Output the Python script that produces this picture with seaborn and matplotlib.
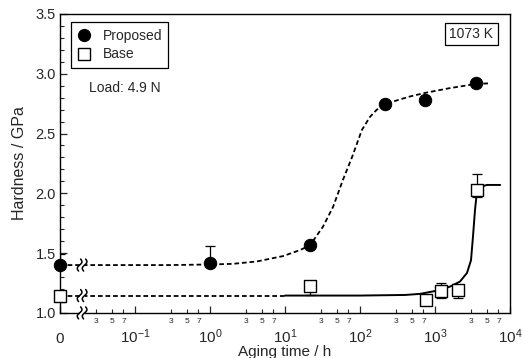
import numpy as np
import matplotlib
matplotlib.use("Agg")
import matplotlib.pyplot as plt
import matplotlib.transforms as mtrans
from matplotlib.lines import Line2D
from matplotlib.ticker import FixedLocator, FixedFormatter
import pandas as pd
import seaborn as sns

# "0 h" is drawn at the 10^-2 position of the log axis
ZERO = 1e-2

# measured points
prop_time = [ZERO, 1.0, 21.5, 215, 736, 3520]
prop_hard = [1.40, 1.42, 1.57, 2.75, 2.78, 2.925]
prop_err_lo = [0.0, 0.0, 0.0, 0.0, 0.0, 0.0]
prop_err_hi = [0.09, 0.14, 0.0, 0.0, 0.0, 0.0]

base_time = [ZERO, 21.5, 760, 1200, 2010, 3600]
base_hard = [1.14, 1.225, 1.11, 1.185, 1.19, 2.03]
base_err_lo = [0.045, 0.075, 0.0, 0.057, 0.062, 0.06]
base_err_hi = [0.0, 0.0, 0.0, 0.063, 0.0, 0.13]

# fitted curves
prop_fit_t = [ZERO, 0.3, 1.0, 2.0, 4.2, 9.4, 15.8, 21.5, 32, 43.7, 59, 78, 106,
              136, 168, 215, 320, 464, 736, 1585, 3520, 5400]
prop_fit_h = [1.40, 1.40, 1.405, 1.41, 1.43, 1.475, 1.525, 1.565, 1.72, 1.886,
              2.11, 2.30, 2.53, 2.64, 2.70, 2.745, 2.78, 2.81, 2.84, 2.88, 2.915, 2.92]

base_fit_dash_t = [ZERO, 10]
base_fit_dash_h = [1.145, 1.145]
base_fit_t = [10, 100, 400, 631, 1063, 1585, 2154, 2670, 3020, 3210, 3415,
              3630, 3900, 4240, 4930, 7400]
base_fit_h = [1.145, 1.145, 1.15, 1.159, 1.186, 1.22, 1.262, 1.334, 1.44, 1.638,
              1.86, 2.02, 2.045, 2.058, 2.07, 2.07]

major_ticks = [ZERO, 1e-1, 1e0, 1e1, 1e2, 1e3, 1e4]
major_labels = ["0", "$10^{-1}$", "$10^{0}$", "$10^{1}$", "$10^{2}$", "$10^{3}$", "$10^{4}$"]
minor_mult = [3, 5, 7]
minor_ticks = [m * 10.0 ** d for d in range(-2, 4) for m in minor_mult]
minor_labels = [str(m) for d in range(-2, 4) for m in minor_mult]

BREAK_X = 0.0197

sns.set_style("ticks")
plt.rcParams["font.family"] = ["Liberation Sans", "DejaVu Sans"]
plt.rcParams["mathtext.default"] = "regular"


def draw_break(ax, x, y, clip=True):
    # two little S-shaped squiggles with a white gap, pixel sized
    trans = ax.figure.dpi_scale_trans + mtrans.ScaledTranslation(x, y, ax.transData)
    t = np.linspace(-1, 1, 40)
    ax.fill_between([-0.025, 0.025], -0.06, 0.06, color="white", lw=0,
                    transform=trans, zorder=5, clip_on=clip)
    for dx in (-0.025, 0.025):
        xs = dx + 0.018 * np.sin(np.pi * t) + 0.01 * t
        ys = 0.06 * t
        ax.plot(xs, ys, color="black", lw=1.1, transform=trans, zorder=6, clip_on=clip)


fig = plt.figure(figsize=(5.22, 3.58), dpi=100)
ax = fig.add_axes([0.115, 0.126, 0.862, 0.835])

pf = pd.DataFrame({"t": prop_fit_t, "h": prop_fit_h})
bfd = pd.DataFrame({"t": base_fit_dash_t, "h": base_fit_dash_h})
bf = pd.DataFrame({"t": base_fit_t, "h": base_fit_h})

dash = (2.6, 1.6)
sns.lineplot(data=pf, x="t", y="h", ax=ax, color="black", lw=1.3, sort=False,
             zorder=2, estimator=None)
ax.lines[-1].set_dashes(dash)
sns.lineplot(data=bfd, x="t", y="h", ax=ax, color="black", lw=1.3, sort=False,
             zorder=2, estimator=None)
ax.lines[-1].set_dashes(dash)
sns.lineplot(data=bf, x="t", y="h", ax=ax, color="black", lw=1.4, sort=False,
             zorder=2, estimator=None)

ax.errorbar(prop_time, prop_hard, yerr=[prop_err_lo, prop_err_hi], fmt="none",
            ecolor="black", elinewidth=0.9, capsize=3.5, capthick=0.9, zorder=3)
ax.errorbar(base_time, base_hard, yerr=[base_err_lo, base_err_hi], fmt="none",
            ecolor="black", elinewidth=0.9, capsize=3.5, capthick=0.9, zorder=3)

sns.scatterplot(x=prop_time, y=prop_hard, ax=ax, marker="o", s=80, color="black",
                edgecolor="black", zorder=7, clip_on=False)
sns.scatterplot(x=base_time, y=base_hard, ax=ax, marker="s", s=72, facecolor="white",
                edgecolor="black", linewidth=1.0, zorder=7, clip_on=False)

ax.set_xscale("log")
ax.set_xlim(ZERO, 1e4)
ax.set_ylim(1.0, 3.5)

ax.xaxis.set_major_locator(FixedLocator(major_ticks))
ax.xaxis.set_major_formatter(FixedFormatter(major_labels))
ax.xaxis.set_minor_locator(FixedLocator(minor_ticks))
ax.xaxis.set_minor_formatter(FixedFormatter(minor_labels))
ax.set_yticks([1.0, 1.5, 2.0, 2.5, 3.0, 3.5])
ax.set_yticklabels(["1.0", "1.5", "2.0", "2.5", "3.0", "3.5"])
ax.set_yticks(np.arange(1.0, 3.5, 0.1), minor=True)

ax.tick_params(axis="x", which="major", direction="in", length=5, width=0.9,
               labelsize=11, pad=21.5)
ax.tick_params(axis="x", which="minor", direction="in", length=3, width=0.8,
               labelsize=6, pad=4)
ax.tick_params(axis="y", which="major", direction="in", length=5, width=0.9,
               labelsize=10.5, pad=3)
ax.tick_params(axis="y", which="minor", direction="in", length=3, width=0.8)
for lab in ax.get_xticklabels():
    lab.set_verticalalignment("baseline")

for sp in ax.spines.values():
    sp.set_color("black")
    sp.set_linewidth(1.0)

ax.set_xlabel("Aging time / h", fontsize=11, labelpad=-0.5)
ax.set_ylabel("Hardness / GPa", fontsize=11.5, labelpad=6)

draw_break(ax, BREAK_X, prop_fit_h[0])
draw_break(ax, BREAK_X, base_fit_dash_h[0])
draw_break(ax, BREAK_X, 1.0, clip=False)

handles = [
    Line2D([], [], ls="none", marker="o", ms=8.5, mfc="black", mec="black"),
    Line2D([], [], ls="none", marker="s", ms=8, mfc="white", mec="black", mew=1.0),
]
leg = ax.legend(handles, ["Proposed", "Base"], loc="upper left",
                bbox_to_anchor=(0.025, 0.972), frameon=True, fancybox=False,
                edgecolor="black", framealpha=1, fontsize=10, borderpad=0.45,
                handlelength=1.0, handletextpad=0.8, labelspacing=0.35,
                borderaxespad=0)
leg.get_frame().set_linewidth(0.9)

ax.text(0.064, 0.752, "Load: 4.9 N", transform=ax.transAxes, fontsize=10,
        ha="left", va="center")
ax.text(0.963, 0.933, "1073 K", transform=ax.transAxes, fontsize=10,
        ha="right", va="center",
        bbox=dict(boxstyle="square,pad=0.3", fc="white", ec="black", lw=0.9))

fig.savefig("out.png", dpi=100)
